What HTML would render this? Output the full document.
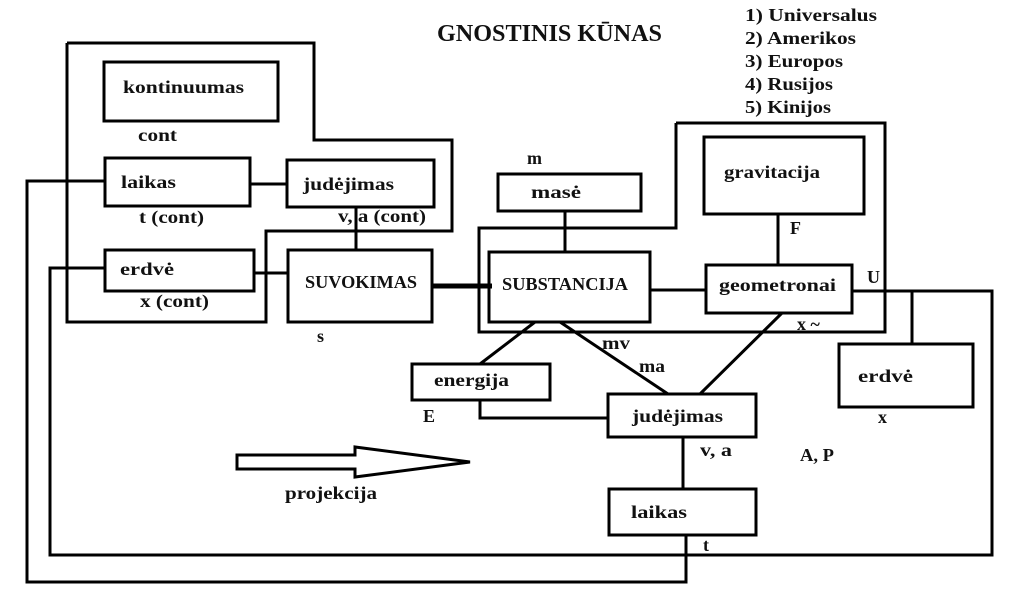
<!DOCTYPE html>
<html><head><meta charset="utf-8"><style>
html,body{margin:0;padding:0;background:#fff}
svg text{font-family:"Liberation Serif",serif;font-weight:bold;fill:#111}
</style></head><body>
<svg width="1011" height="602" viewBox="0 0 1011 602" xmlns="http://www.w3.org/2000/svg">
<g fill="none" stroke="#000" stroke-width="3">
<polyline points="67,43 314,43 314,140 452,140 452,231 266,231 266,322 67,322 67,43"/>
<rect x="104" y="62" width="174" height="59"/>
<rect x="105" y="158" width="145" height="48"/>
<rect x="287" y="160" width="147" height="47"/>
<rect x="105" y="250" width="149" height="41"/>
<rect x="288" y="250" width="144" height="72"/>
<line x1="250" y1="184" x2="287" y2="184"/>
<line x1="254" y1="273" x2="288" y2="273"/>
<line x1="356" y1="207" x2="356" y2="250"/>
<line x1="432" y1="286" x2="492" y2="286" stroke-width="5"/>
<polyline points="105,181 27,181 27,582 686,582 686,535"/>
<polyline points="105,268 50,268 50,555 992,555 992,291 852,291"/>
<polyline points="676,123 885,123 885,332 479,332 479,228 676,228 676,123"/>
<rect x="704" y="137" width="160" height="77"/>
<rect x="706" y="265" width="146" height="48"/>
<line x1="778" y1="214" x2="778" y2="265"/>
<rect x="489" y="252" width="161" height="70"/>
<rect x="498" y="174" width="143" height="37"/>
<line x1="565" y1="211" x2="565" y2="252"/>
<line x1="650" y1="290" x2="706" y2="290"/>
<rect x="839" y="344" width="134" height="63"/>
<line x1="912" y1="291" x2="912" y2="344"/>
<rect x="412" y="364" width="138" height="36"/>
<rect x="608" y="394" width="148" height="43"/>
<polyline points="480,400 480,418 608,418"/>
<line x1="535" y1="322" x2="480" y2="364"/>
<line x1="560" y1="322" x2="668" y2="394"/>
<line x1="782" y1="313" x2="700" y2="394"/>
<line x1="683" y1="437" x2="683" y2="489"/>
<rect x="609" y="489" width="147" height="46"/>
<polygon points="237,455 355,455 355,447 470,462 355,477 355,469 237,469"/>
</g>
<text x="437" y="41" font-size="24" textLength="225" lengthAdjust="spacingAndGlyphs">GNOSTINIS KŪNAS</text>
<g font-size="18" lengthAdjust="spacingAndGlyphs">
<text x="745" y="21" textLength="132" lengthAdjust="spacingAndGlyphs">1) Universalus</text>
<text x="745" y="44" textLength="111" lengthAdjust="spacingAndGlyphs">2) Amerikos</text>
<text x="745" y="67" textLength="98" lengthAdjust="spacingAndGlyphs">3) Europos</text>
<text x="745" y="90" textLength="88" lengthAdjust="spacingAndGlyphs">4) Rusijos</text>
<text x="745" y="113" textLength="86" lengthAdjust="spacingAndGlyphs">5) Kinijos</text>
<text x="123" y="93" textLength="121" lengthAdjust="spacingAndGlyphs">kontinuumas</text>
<text x="138" y="141" textLength="39" lengthAdjust="spacingAndGlyphs">cont</text>
<text x="121" y="188" textLength="55" lengthAdjust="spacingAndGlyphs">laikas</text>
<text x="139" y="223" textLength="65" lengthAdjust="spacingAndGlyphs">t (cont)</text>
<text x="303" y="190" textLength="91" lengthAdjust="spacingAndGlyphs">judėjimas</text>
<text x="338" y="222" textLength="88" lengthAdjust="spacingAndGlyphs">v, a (cont)</text>
<text x="120" y="275" textLength="54" lengthAdjust="spacingAndGlyphs">erdvė</text>
<text x="140" y="307" textLength="69" lengthAdjust="spacingAndGlyphs">x (cont)</text>
<text x="305" y="288" textLength="112" lengthAdjust="spacingAndGlyphs">SUVOKIMAS</text>
<text x="317" y="342">s</text>
<text x="527" y="164">m</text>
<text x="531" y="198" textLength="50" lengthAdjust="spacingAndGlyphs">masė</text>
<text x="502" y="290" textLength="126" lengthAdjust="spacingAndGlyphs">SUBSTANCIJA</text>
<text x="724" y="178" textLength="96" lengthAdjust="spacingAndGlyphs">gravitacija</text>
<text x="790" y="234">F</text>
<text x="719" y="291" textLength="117" lengthAdjust="spacingAndGlyphs">geometronai</text>
<text x="867" y="283">U</text>
<text x="797" y="330">x ~</text>
<text x="858" y="382" textLength="55" lengthAdjust="spacingAndGlyphs">erdvė</text>
<text x="878" y="423">x</text>
<text x="434" y="386" textLength="75" lengthAdjust="spacingAndGlyphs">energija</text>
<text x="423" y="422">E</text>
<text x="602" y="349" textLength="28" lengthAdjust="spacingAndGlyphs">mv</text>
<text x="639" y="372" textLength="26" lengthAdjust="spacingAndGlyphs">ma</text>
<text x="632" y="422" textLength="91" lengthAdjust="spacingAndGlyphs">judėjimas</text>
<text x="700" y="456" textLength="32" lengthAdjust="spacingAndGlyphs">v, a</text>
<text x="800" y="461" textLength="34" lengthAdjust="spacingAndGlyphs">A, P</text>
<text x="631" y="518" textLength="56" lengthAdjust="spacingAndGlyphs">laikas</text>
<text x="703" y="551">t</text>
<text x="285" y="499" textLength="92" lengthAdjust="spacingAndGlyphs">projekcija</text>
</g>
</svg>
</body></html>
